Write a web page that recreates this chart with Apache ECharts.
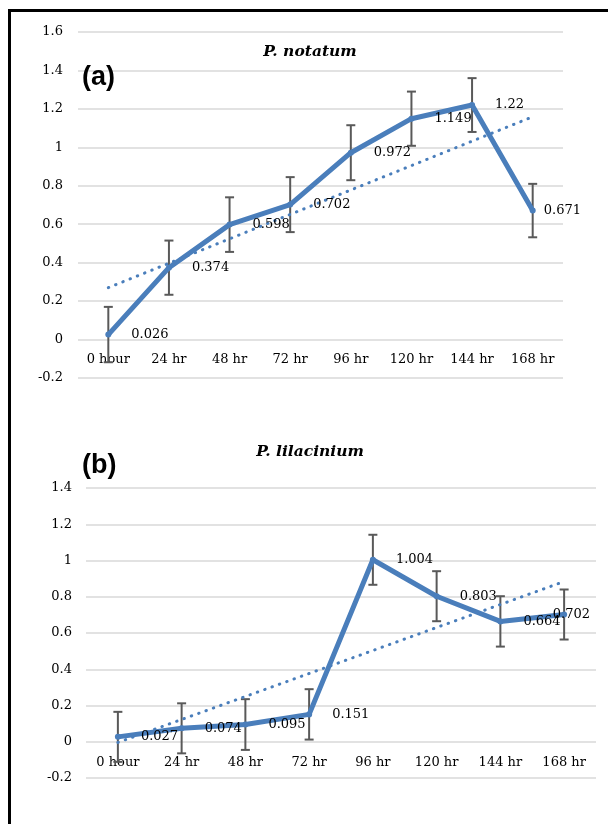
<!DOCTYPE html>
<html>
<head>
<meta charset="utf-8">
<script src="https://cdn.jsdelivr.net/npm/echarts@6/dist/echarts.min.js"></script>
<style>
html,body{margin:0;padding:0;background:#fff;}
#wrap{position:relative;width:608px;height:824px;}
#chart{width:608px;height:824px;}
#frame{position:absolute;left:8px;top:9px;width:600px;height:815px;border-left:3px solid #000;border-top:3px solid #000;pointer-events:none;box-sizing:border-box;}
</style>
</head>
<body>
<div id="wrap"><div id="chart"></div><div id="frame"></div></div>
<script>
// ---- data ----
const categories = ['0 hour', '24 hr', '48 hr', '72 hr', '96 hr', '120 hr', '144 hr', '168 hr'];
const notatumValues = [0.026, 0.374, 0.598, 0.702, 0.972, 1.149, 1.22, 0.671];
const notatumErrors = [0.144, 0.141, 0.142, 0.143, 0.143, 0.141, 0.14, 0.139];
const notatumTrend = [0.27, 1.159];          // linear trendline at first / last category
const lilaciniumValues = [0.027, 0.074, 0.095, 0.151, 1.004, 0.803, 0.664, 0.702];
const lilaciniumErrors = [0.138, 0.138, 0.14, 0.139, 0.138, 0.138, 0.139, 0.138];
const lilaciniumTrend = [-0.004, 0.884];
const titles = ['P. notatum', 'P. lilacinium'];
const panelLabels = ['(a)', '(b)'];

// ---- styles ----
const BLUE = '#4a7ebb';
const GRID = '#d9d9d9';
const SERIF = 'DejaVu Serif';

function errData(vals, errs) {
  return vals.map((v, i) => [i, v - errs[i], v + errs[i]]);
}
function renderErr(params, api) {
  const x = api.value(0);
  const lo = api.coord([x, api.value(1)]);
  const hi = api.coord([x, api.value(2)]);
  const w = 4.5;
  const st = { stroke: '#595959', lineWidth: 2 };
  return {
    type: 'group',
    children: [
      { type: 'line', shape: { x1: hi[0], y1: hi[1], x2: lo[0], y2: lo[1] }, style: st },
      { type: 'line', shape: { x1: hi[0] - w, y1: hi[1], x2: hi[0] + w, y2: hi[1] }, style: st },
      { type: 'line', shape: { x1: lo[0] - w, y1: lo[1], x2: lo[0] + w, y2: lo[1] }, style: st }
    ]
  };
}
// x axis sits on the zero line (Excel style): offset = distance from grid bottom to value 0
function xAxisCfg(gi, gridHeight, ymin, ymax) {
  const zeroOffset = gridHeight * (0 - ymin) / (ymax - ymin);
  return {
    type: 'category', gridIndex: gi, data: categories, boundaryGap: true,
    position: 'bottom', offset: -zeroOffset,
    axisLine: { show: false, onZero: false },
    axisTick: { show: false },
    axisLabel: { color: '#000', fontFamily: SERIF, fontSize: 13, margin: 14 },
    splitLine: { show: false }
  };
}
function yAxisCfg(gi, min, max, margin) {
  return {
    type: 'value', gridIndex: gi, min: min, max: max, interval: 0.2,
    axisLine: { show: false }, axisTick: { show: false },
    axisLabel: { color: '#000', fontFamily: SERIF, fontSize: 13, margin: margin },
    splitLine: { lineStyle: { color: GRID, width: 1.5 } }
  };
}
function seriesFor(gi, vals, errs, trend, rightLimit) {
  return [
    {
      type: 'custom', xAxisIndex: gi, yAxisIndex: gi, z: 1, silent: true,
      renderItem: renderErr, encode: { x: 0, y: [1, 2] },
      data: errData(vals, errs)
    },
    {
      type: 'line', xAxisIndex: gi, yAxisIndex: gi, z: 3,
      data: vals, symbol: 'circle', symbolSize: 6, showSymbol: true,
      itemStyle: { color: BLUE },
      lineStyle: { color: BLUE, width: 5 },
      label: {
        show: true, position: 'right', distance: 20,
        color: '#000', fontFamily: SERIF, fontSize: 13,
        formatter: p => String(p.value)
      },
      // keep labels inside the chart area like Excel does
      labelLayout: function (p) {
        const r = p.labelRect;
        if (r.x + r.width > rightLimit) {
          return {
            x: rightLimit - r.width, y: r.y + r.height / 2,
            align: 'left', verticalAlign: 'middle'
          };
        }
        return {};
      },
      animation: false
    },
    {
      type: 'line', xAxisIndex: gi, yAxisIndex: gi, z: 2, silent: true,
      data: [[0, trend[0]], [categories.length - 1, trend[1]]],
      symbol: 'none',
      lineStyle: { color: BLUE, width: 3, type: [0.5, 7.3], cap: 'round' },
      animation: false
    }
  ];
}

const G0 = { left: 78, right: 45, top: 32, height: 346 };
const G1 = { left: 86, right: 12, top: 488, height: 290 };

const chart = echarts.init(document.getElementById('chart'), null, { renderer: 'canvas' });
chart.setOption({
  animation: false,
  backgroundColor: '#fff',
  title: [
    { text: titles[0], left: 310, top: 44, textAlign: 'center', padding: 0,
      textStyle: { fontFamily: SERIF, fontStyle: 'italic', fontWeight: 'bold', fontSize: 15.5, color: '#000' } },
    { text: panelLabels[0], left: 82, top: 64, padding: 0,
      textStyle: { fontFamily: 'Liberation Sans', fontWeight: 'bold', fontSize: 27, color: '#000' } },
    { text: titles[1], left: 310, top: 444, textAlign: 'center', padding: 0,
      textStyle: { fontFamily: SERIF, fontStyle: 'italic', fontWeight: 'bold', fontSize: 15.5, color: '#000' } },
    { text: panelLabels[1], left: 82, top: 452, padding: 0,
      textStyle: { fontFamily: 'Liberation Sans', fontWeight: 'bold', fontSize: 27, color: '#000' } }
  ],
  grid: [G0, G1],
  xAxis: [xAxisCfg(0, G0.height, -0.2, 1.6), xAxisCfg(1, G1.height, -0.2, 1.4)],
  yAxis: [yAxisCfg(0, -0.2, 1.6, 15), yAxisCfg(1, -0.2, 1.4, 14)],
  series: [].concat(
    seriesFor(0, notatumValues, notatumErrors, notatumTrend, 581),
    seriesFor(1, lilaciniumValues, lilaciniumErrors, lilaciniumTrend, 590)
  )
});
</script>
</body>
</html>
